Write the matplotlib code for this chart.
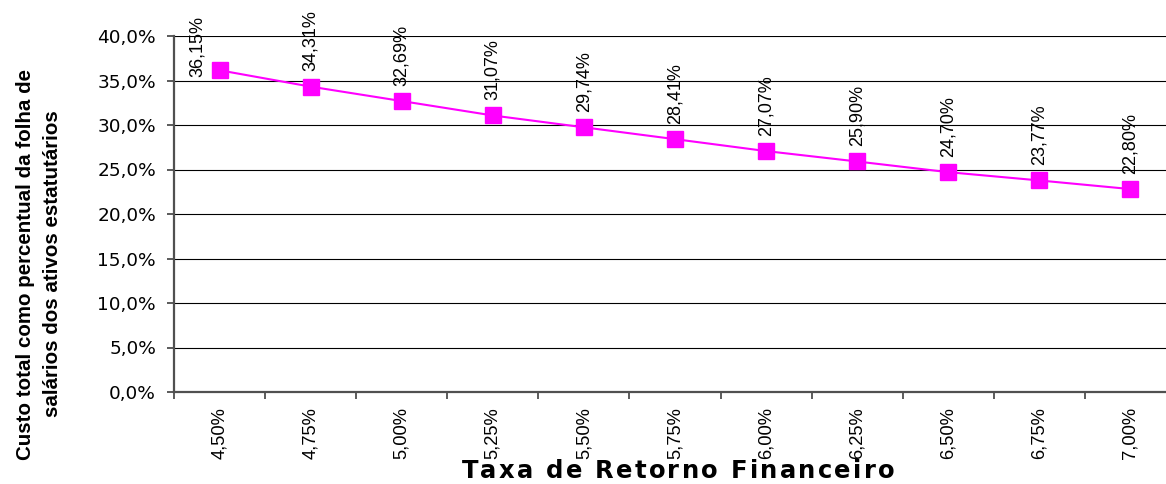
import matplotlib
matplotlib.use("Agg")
import matplotlib.pyplot as plt
from matplotlib.ticker import FuncFormatter, FixedLocator
from matplotlib import font_manager as fm
from matplotlib.font_manager import FontProperties
from matplotlib.ft2font import FT2Font

categories = ["4,50%", "4,75%", "5,00%", "5,25%", "5,50%", "5,75%",
              "6,00%", "6,25%", "6,50%", "6,75%", "7,00%"]
values = [36.15, 34.31, 32.69, 31.07, 29.74, 28.41, 27.07, 25.90, 24.70, 23.77, 22.80]
yticks = [0, 5, 10, 15, 20, 25, 30, 35, 40]
x_title = "Taxa de Retorno Financeiro"
y_title = "Custo total como percentual da folha de\nsalários dos ativos estatutários"

ARIAL = ['Liberation Sans', 'DejaVu Sans']
WIDE = ['DejaVu Sans']
plt.rcParams['font.family'] = ARIAL

W, H, DPI = 1166, 484, 100
fig = plt.figure(figsize=(W / DPI, H / DPI), dpi=DPI)
ax = fig.add_axes([174 / W, 1 - 392 / H, 1002 / W, 356 / H])


def char_advances(s, family, size, weight):
    prop = FontProperties(family=family, weight=weight, size=size)
    font = FT2Font(fm.findfont(prop))
    font.set_size(size, DPI)
    try:
        from matplotlib.ft2font import LoadFlags
        flags = LoadFlags.NO_HINTING
    except ImportError:
        from matplotlib.ft2font import LOAD_NO_HINTING as flags
    return [font.load_char(ord(c), flags=flags).linearHoriAdvance / 65536 for c in s]


def spaced_text(cx, cy, s, family, size, weight, total_px):
    """Horizontal text centred on pixel cx (baseline cy), letter-spaced to span total_px."""
    advs = char_advances(s, family, size, weight)
    sp = (total_px - sum(advs)) / (len(s) - 1)
    pos = -total_px / 2
    for c, a in zip(s, advs):
        if c != ' ':
            fig.text((cx + pos) / W, 1 - cy / H, c, ha='left', va='baseline',
                     fontsize=size, fontweight=weight, family=family)
        pos += a + sp


x = list(range(len(categories)))
ax.plot(x, values, color='#FF00FF', lw=1.5, marker='s', markersize=11.5,
        markerfacecolor='#FF00FF', markeredgecolor='#FF00FF', zorder=3,
        clip_on=False)

for i, (xi, v) in enumerate(zip(x, values)):
    lbl = f"{v:.2f}".replace('.', ',') + "%"
    offset = (-16, -5) if i == 0 else (0, 11)
    ax.annotate(lbl, (xi, v), xytext=offset, textcoords='offset points',
                rotation=90, ha='center', va='bottom', fontsize=13,
                annotation_clip=False)

ax.set_xlim(-0.5, len(categories) - 0.5)
ax.set_ylim(0, 40)
ax.set_yticks(yticks)
ax.yaxis.set_major_formatter(FuncFormatter(lambda v, p: f"{v:.1f}".replace('.', ',') + "%"))
ax.yaxis.grid(True, color='black', lw=0.8)
ax.set_axisbelow(True)

ax.set_xticks(x)
ax.set_xticklabels(categories, rotation=90, fontsize=13.2)
ax.tick_params(axis='x', which='major', length=0, pad=11)
ax.xaxis.set_minor_locator(FixedLocator([i - 0.5 for i in range(len(categories) + 1)]))
ax.tick_params(axis='x', which='minor', length=5, width=1.2, color='#404040')
ax.tick_params(axis='y', length=5, width=1.2, color='#404040', labelsize=13.3, pad=8,
               labelfontfamily='DejaVu Sans')

for s in ['top', 'right']:
    ax.spines[s].set_visible(False)
for s in ['left', 'bottom']:
    ax.spines[s].set_color('#505050')
    ax.spines[s].set_linewidth(1.6)

spaced_text(678, 478, x_title, WIDE, 17.5, 'bold', 433)
fig.text(39 / W, 1 - 264 / H, y_title, ha='center', va='center', rotation=90,
         fontsize=14.8, fontweight='bold', linespacing=1.55, multialignment='center')

fig.savefig("out.png", dpi=DPI)
